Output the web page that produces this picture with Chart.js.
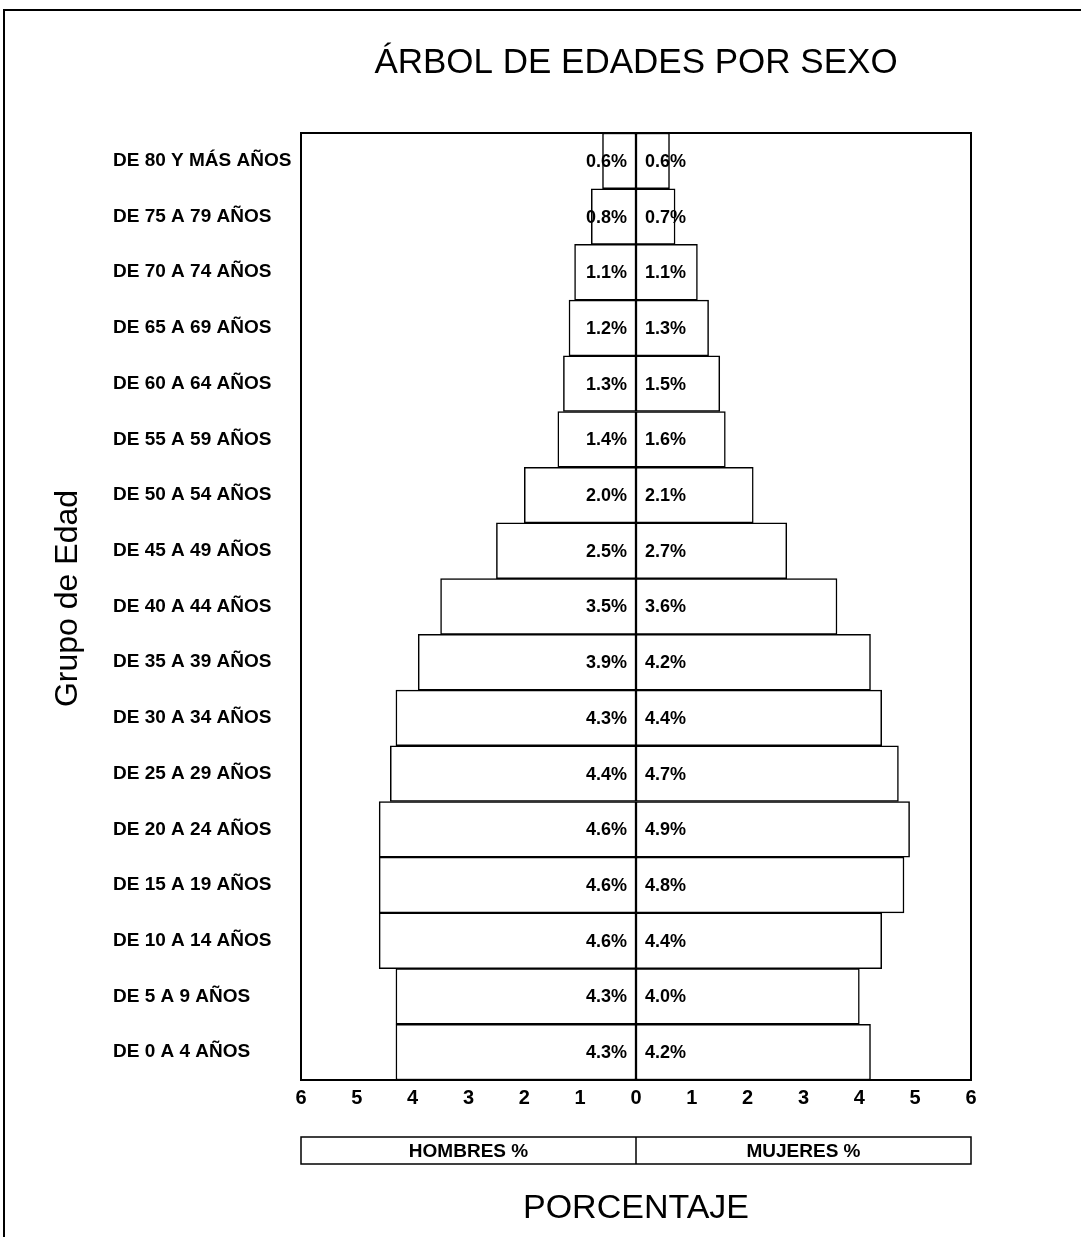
<!DOCTYPE html>
<html>
<head>
<meta charset="utf-8">
<title>Árbol de edades por sexo</title>
<script src="https://cdn.jsdelivr.net/npm/chart.js@4"></script>
<style>
    body { margin: 0; background: #fff; }
    #wrap { position: relative; width: 1081px; height: 1237px; }
    #frame { position: absolute; left: 3px; top: 9px; right: 0; bottom: 0;
             border-top: 2px solid #000; border-left: 2px solid #000; pointer-events: none; }
</style>
</head>
<body>
<div id="wrap">
    <canvas id="pyramid" width="1081" height="1237"></canvas>
    <div id="frame"></div>
</div>
<script>
// Age groups, oldest first (top of the pyramid)
const ageGroups = [
    'DE 80 Y MÁS AÑOS', 'DE 75 A 79 AÑOS', 'DE 70 A 74 AÑOS', 'DE 65 A 69 AÑOS',
    'DE 60 A 64 AÑOS', 'DE 55 A 59 AÑOS', 'DE 50 A 54 AÑOS', 'DE 45 A 49 AÑOS',
    'DE 40 A 44 AÑOS', 'DE 35 A 39 AÑOS', 'DE 30 A 34 AÑOS', 'DE 25 A 29 AÑOS',
    'DE 20 A 24 AÑOS', 'DE 15 A 19 AÑOS', 'DE 10 A 14 AÑOS', 'DE 5 A 9 AÑOS',
    'DE 0 A 4 AÑOS'
];
const menPct   = [0.6, 0.8, 1.1, 1.2, 1.3, 1.4, 2.0, 2.5, 3.5, 3.9, 4.3, 4.4, 4.6, 4.6, 4.6, 4.3, 4.3];
const womenPct = [0.6, 0.7, 1.1, 1.3, 1.5, 1.6, 2.1, 2.7, 3.6, 4.2, 4.4, 4.7, 4.9, 4.8, 4.4, 4.0, 4.2];
const axisTicks = [-6, -5, -4, -3, -2, -1, 0, 1, 2, 3, 4, 5, 6];
const legendLabels = ['HOMBRES %', 'MUJERES %'];

const FONT = '"Liberation Sans", Arial, sans-serif';

// plot frame, value labels, legend box and y title
const pyramidDecor = {
    id: 'pyramidDecor',
    afterDatasetsDraw(chart) {
        const { ctx, chartArea: a, scales: { x } } = chart;
        const zero = x.getPixelForValue(0);
        ctx.save();
        ctx.fillStyle = '#000';
        ctx.font = 'bold 18px ' + FONT;
        ctx.textBaseline = 'middle';
        chart.data.datasets.forEach((ds, i) => {
            const meta = chart.getDatasetMeta(i);
            meta.data.forEach((bar, j) => {
                const v = Math.abs(ds.data[j]);
                ctx.textAlign = i === 0 ? 'right' : 'left';
                ctx.fillText(v.toFixed(1) + '%', zero + (i === 0 ? -9 : 9), bar.y + 1);
            });
        });

        // box around plot
        ctx.strokeStyle = '#000';
        ctx.lineWidth = 2;
        ctx.strokeRect(a.left, a.top, a.right - a.left, a.bottom - a.top);

        // legend box under the axis
        const top = a.bottom + 57, h = 27;
        ctx.lineWidth = 1.5;
        ctx.strokeRect(a.left, top, a.right - a.left, h);
        ctx.beginPath();
        ctx.moveTo(zero, top);
        ctx.lineTo(zero, top + h);
        ctx.stroke();
        ctx.font = 'bold 19px ' + FONT;
        ctx.textAlign = 'center';
        ctx.fillText(legendLabels[0], (a.left + zero) / 2, top + h / 2 + 1);
        ctx.fillText(legendLabels[1], (zero + a.right) / 2, top + h / 2 + 1);

        // y axis title
        ctx.translate(a.left - 233, (a.top + a.bottom) / 2 - 8);
        ctx.rotate(-Math.PI / 2);
        ctx.font = '32px ' + FONT;
        ctx.fillText('Grupo de Edad', 0, 0);
        ctx.restore();
    }
};

const barStyle = {
    backgroundColor: '#fff',
    borderColor: '#000',
    borderWidth: 1.5,
    borderSkipped: false,
    categoryPercentage: 1,
    barPercentage: 1
};

new Chart(document.getElementById('pyramid'), {
    type: 'bar',
    data: {
        labels: ageGroups,
        datasets: [
            { label: legendLabels[0], data: menPct.map(v => -v), ...barStyle },
            { label: legendLabels[1], data: womenPct, ...barStyle }
        ]
    },
    options: {
        indexAxis: 'y',
        responsive: false,
        animation: false,
        layout: { padding: { left: 113, right: 110, top: 0, bottom: 0 } },
        scales: {
            x: {
                stacked: true,
                min: -6,
                max: 6,
                afterBuildTicks: scale => { scale.ticks = axisTicks.map(v => ({ value: v })); },
                afterFit: scale => { scale.height = 157; },
                grid: { display: false, drawTicks: false },
                border: { display: false },
                ticks: {
                    padding: 6,
                    color: '#000',
                    font: { family: FONT, size: 20, weight: 'bold' },
                    callback: v => Math.abs(v)
                },
                title: {
                    display: true,
                    text: 'PORCENTAJE',
                    color: '#000',
                    font: { family: FONT, size: 34 },
                    padding: { top: 0, bottom: 8 }
                }
            },
            y: {
                stacked: true,
                afterFit: scale => { scale.width = 188; },
                grid: { display: false, drawTicks: false },
                border: { display: false },
                ticks: {
                    crossAlign: 'far',
                    color: '#000',
                    font: { family: FONT, size: 19, weight: 'bold' }
                }
            }
        },
        plugins: {
            legend: { display: false },
            tooltip: { enabled: false },
            title: {
                display: true,
                fullSize: false,
                text: 'ÁRBOL DE EDADES POR SEXO',
                color: '#000',
                font: { family: FONT, size: 35, weight: 'normal' },
                padding: { top: 42, bottom: 49 }
            }
        }
    },
    plugins: [pyramidDecor]
});
</script>
</body>
</html>
